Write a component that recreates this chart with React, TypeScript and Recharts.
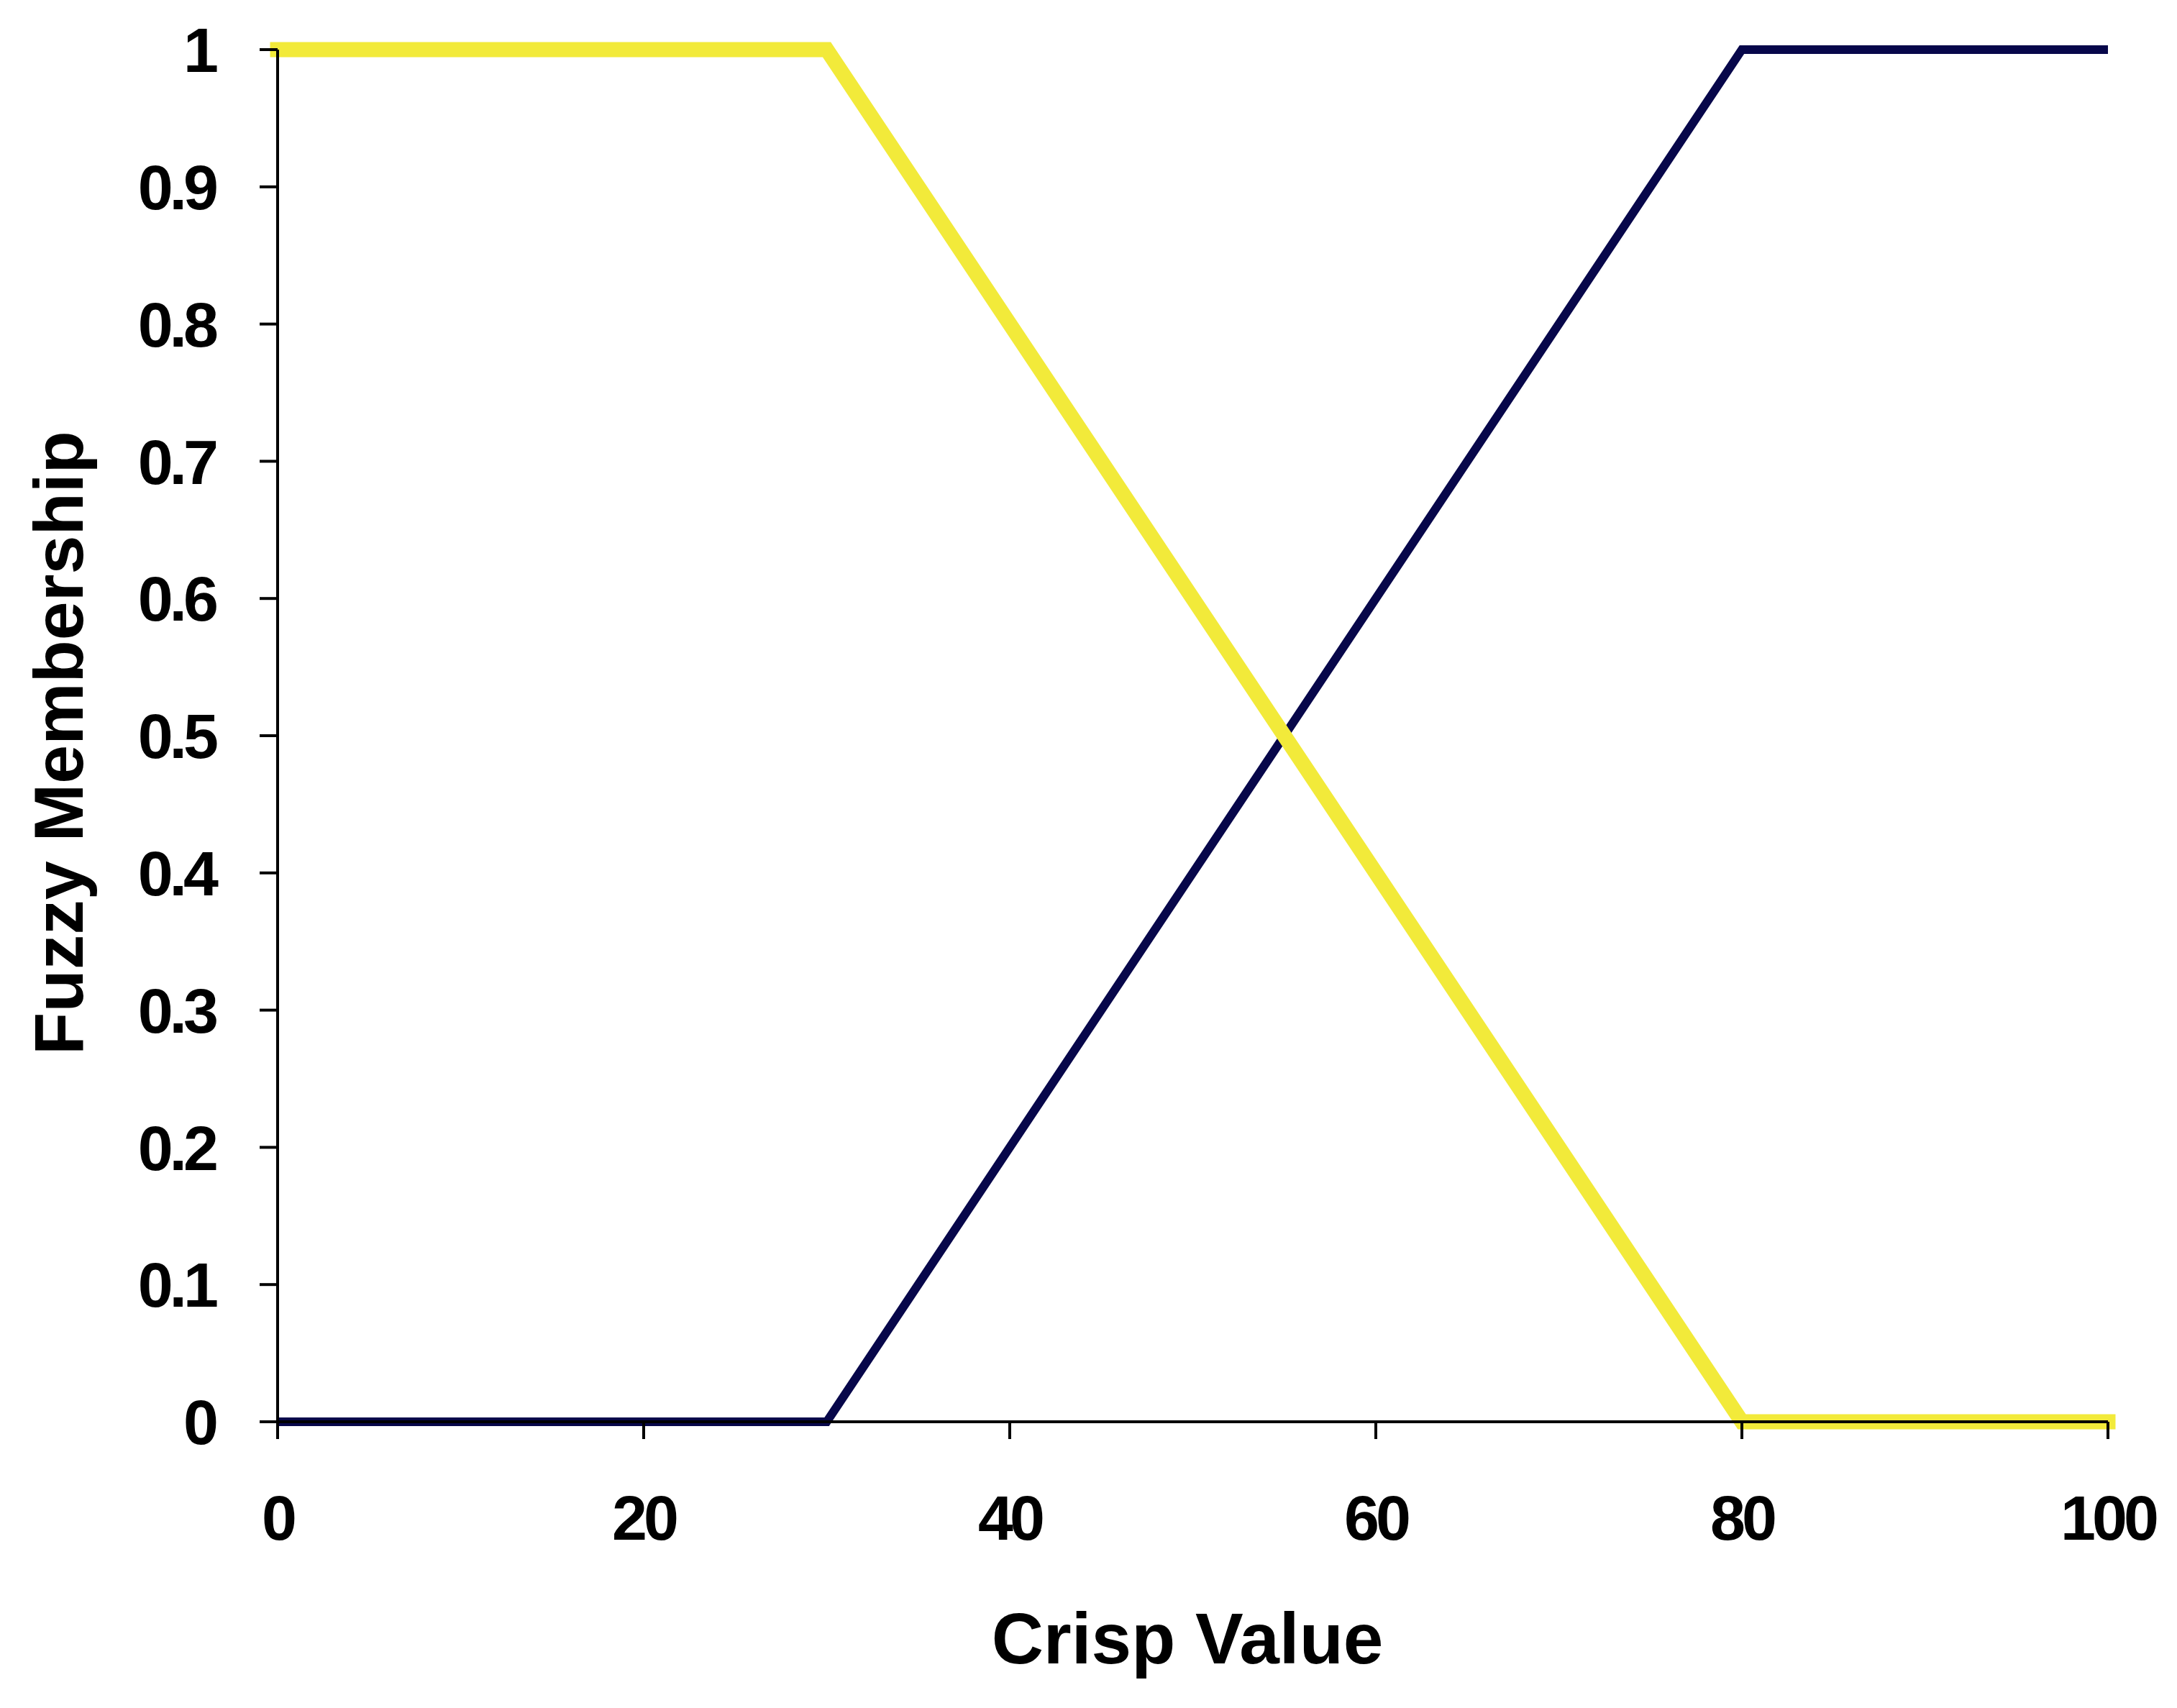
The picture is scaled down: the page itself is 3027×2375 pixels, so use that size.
import React from 'react';
import { LineChart, Line, XAxis, YAxis } from 'recharts';

const crispValues = [0, 30, 80, 100];
const lowMembership = [1, 1, 0, 0];
const highMembership = [0, 0, 1, 1];
const xTicks = [0, 20, 40, 60, 80, 100];
const yTicks = [0, 0.1, 0.2, 0.3, 0.4, 0.5, 0.6, 0.7, 0.8, 0.9, 1];

const data = crispValues.map((x, i) => ({
  x,
  low: lowMembership[i],
  high: highMembership[i],
}));

const FONT = '"Liberation Sans", Arial, sans-serif';
const tickStyle = {
  fontFamily: FONT,
  fontWeight: 700,
  fontSize: 88,
  letterSpacing: -5,
  fill: '#000',
};

export default function App() {
  return (
    <div style={{ position: 'relative', width: 3011, height: 2359, background: '#fff' }}>
      <LineChart
        width={3011}
        height={2359}
        data={data}
        margin={{ top: 61, right: 88, bottom: 140, left: 128 }}
      >
        <XAxis
          dataKey="x"
          type="number"
          domain={[0, 100]}
          ticks={xTicks}
          height={250}
          tickSize={24}
          tickMargin={78}
          tick={tickStyle}
          stroke="#000"
          strokeWidth={4}
        />
        <YAxis
          type="number"
          domain={[0, 1]}
          ticks={yTicks}
          width={250}
          tickSize={25}
          tickMargin={62}
          tick={tickStyle}
          stroke="#000"
          strokeWidth={4}
          tickFormatter={(v: number) => String(Number(v.toFixed(1)))}
        />
        <Line
          dataKey="high"
          stroke="#07074A"
          strokeWidth={12}
          dot={false}
          isAnimationActive={false}
          strokeLinejoin="miter"
        />
        <Line
          dataKey="low"
          stroke="#F2EA3A"
          strokeWidth={21}
          strokeLinecap="square"
          dot={false}
          isAnimationActive={false}
          strokeLinejoin="miter"
        />
      </LineChart>
      <div
        style={{
          position: 'absolute',
          left: 1643,
          top: 2270,
          transform: 'translate(-50%, -50%)',
          fontFamily: FONT,
          fontWeight: 700,
          fontSize: 100,
          whiteSpace: 'nowrap',
          lineHeight: 1,
        }}
      >
        Crisp Value
      </div>
      <div
        style={{
          position: 'absolute',
          left: 73,
          top: 1025,
          transform: 'translate(-50%, -50%) rotate(-90deg)',
          fontFamily: FONT,
          fontWeight: 700,
          fontSize: 97,
          whiteSpace: 'nowrap',
          lineHeight: 1,
        }}
      >
        Fuzzy Membership
      </div>
    </div>
  );
}
